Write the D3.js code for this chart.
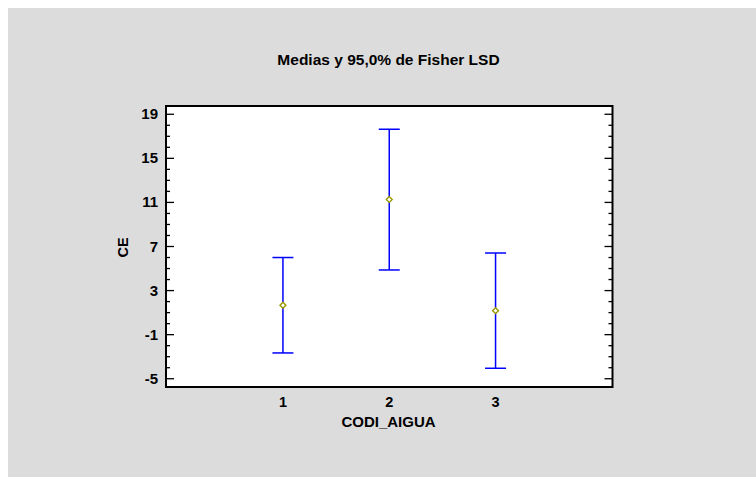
<!DOCTYPE html>
<html>
<head>
<meta charset="utf-8">
<script src="https://cdn.jsdelivr.net/npm/d3@7"></script>
<style>
body{margin:0;background:#fff;}
text{font-family:Arial,"Liberation Sans",sans-serif;font-weight:bold;fill:#000;}
</style>
</head>
<body>
<svg id="chart" width="756" height="477"></svg>
<script>
// data
const groups=[1,2,3]
const means=[1.67,11.27,1.18]
const lower=[-2.66,4.87,-4.05]
const upper=[6.0,17.64,6.41]
const yTicks=[-5,-1,3,7,11,15,19]

const svg=d3.select("#chart")
svg.append("rect").attr("x",8).attr("y",8).attr("width",748).attr("height",469).attr("fill","#dcdcdc")

const L=166,R=612.5,T=106,B=387
const x=d3.scaleLinear().domain([-0.1,4.1]).range([L,R])
const y=d3.scaleLinear().domain([-5.75,19.75]).range([B,T])

svg.append("rect").attr("x",L).attr("y",T).attr("width",R-L).attr("height",B-T).attr("fill","#fff")

// ticks, inward on both sides
const minor=d3.range(-5,20,1)
const g=svg.append("g").attr("stroke","#000").attr("stroke-width",1.3)
g.selectAll("line.l").data(minor).join("line").attr("class","l")
 .attr("x1",L).attr("x2",d=>L+(yTicks.includes(d)?8:4))
 .attr("y1",d=>y(d)).attr("y2",d=>y(d))
g.selectAll("line.r").data(minor).join("line").attr("class","r")
 .attr("x1",R).attr("x2",d=>R-(yTicks.includes(d)?8:4))
 .attr("y1",d=>y(d)).attr("y2",d=>y(d))

svg.append("rect").attr("x",L).attr("y",T).attr("width",R-L).attr("height",B-T)
 .attr("fill","none").attr("stroke","#000").attr("stroke-width",2)

svg.selectAll("text.yt").data(yTicks).join("text").attr("class","yt")
 .attr("x",158).attr("y",d=>y(d)+5).attr("text-anchor","end").attr("font-size",15)
 .text(d=>d)
svg.selectAll("text.xt").data(groups).join("text").attr("class","xt")
 .attr("x",d=>x(d)).attr("y",407).attr("text-anchor","middle").attr("font-size",14.5)
 .text(d=>d)

// error bars
const eb=svg.append("g").attr("stroke","#0000ff").attr("stroke-width",1.5)
eb.selectAll("line.v").data(groups).join("line").attr("class","v")
 .attr("x1",d=>x(d)).attr("x2",d=>x(d))
 .attr("y1",(d,i)=>y(upper[i])).attr("y2",(d,i)=>y(lower[i]))
eb.selectAll("line.t").data(groups).join("line").attr("class","t")
 .attr("x1",d=>x(d)-10.5).attr("x2",d=>x(d)+10.5)
 .attr("y1",(d,i)=>y(upper[i])).attr("y2",(d,i)=>y(upper[i]))
eb.selectAll("line.b").data(groups).join("line").attr("class","b")
 .attr("x1",d=>x(d)-10.5).attr("x2",d=>x(d)+10.5)
 .attr("y1",(d,i)=>y(lower[i])).attr("y2",(d,i)=>y(lower[i]))

svg.selectAll("path.m").data(groups).join("path").attr("class","m")
 .attr("d",d3.symbol(d3.symbolDiamond2,22))
 .attr("transform",(d,i)=>`translate(${x(d)},${y(means[i])})`)
 .attr("fill","#fff").attr("stroke","#999900").attr("stroke-width",1.4)

svg.append("text").attr("x",388.5).attr("y",65).attr("text-anchor","middle").attr("font-size",15.5)
 .text("Medias y 95,0% de Fisher LSD")
svg.append("text").attr("x",388.5).attr("y",427).attr("text-anchor","middle").attr("font-size",15)
 .text("CODI_AIGUA")
svg.append("text").attr("transform","translate(128,247.5) rotate(-90)").attr("text-anchor","middle").attr("font-size",14.5)
 .text("CE")
</script>
</body>
</html>
